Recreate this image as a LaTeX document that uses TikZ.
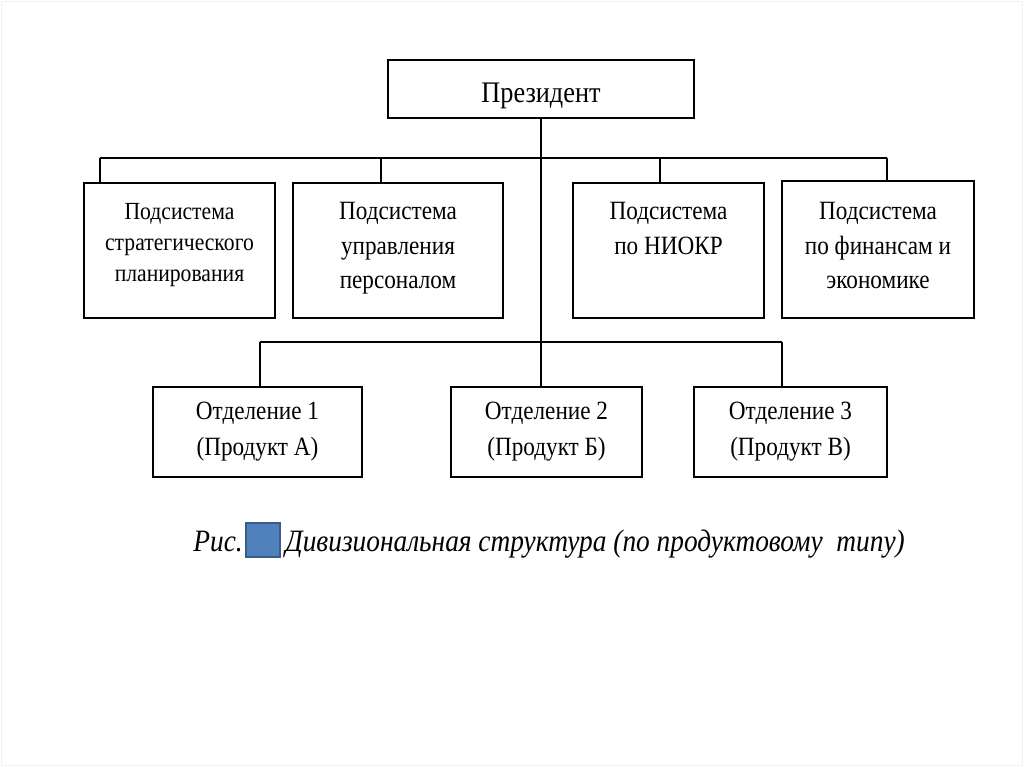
\documentclass[tikz,border=0pt]{standalone}
\usepackage{fontspec}
\setmainfont[FakeStretch=0.88]{Liberation Serif}
\usetikzlibrary{positioning}

\definecolor{markfill}{HTML}{4F81BD}
\definecolor{markline}{HTML}{385D8A}

\tikzset{
  unit/.style={draw, line width=0.9pt, inner sep=0pt},
  unittext/.style={inner sep=0pt, align=center, font=\fontsize{15}{19.6}\selectfont},
  captext/.style={inner sep=0pt, font=\fontsize{17.7}{20}\selectfont\itshape}
}

\begin{document}
\begin{tikzpicture}[x=0.02cm,y=-0.02cm]
  \useasboundingbox (0,0) rectangle (1024,767);
  \draw[black!6] (1,1) rectangle (1022,765);

  % President
  \node[unit, minimum width=6.12cm, minimum height=1.16cm, text height=0.58cm, text depth=0.02cm,
        font=\fontsize{17}{20}\selectfont] (pres) at (541,89) {Президент};

  % Subsystem boxes
  \node[unit, minimum width=3.82cm, minimum height=2.7cm] (s1) at (179.5,250.5) {};
  \node[unit, minimum width=4.2cm,  minimum height=2.7cm] (s2) at (398,250.5) {};
  \node[unit, minimum width=3.82cm, minimum height=2.7cm] (s3) at (668.5,250.5) {};
  \node[unit, minimum width=3.84cm, minimum height=2.74cm] (s4) at (878,249.5) {};

  \node[unittext, font=\fontsize{14}{17.6}\selectfont, below=0.42cm of s1.north] (s1t) {Подсистема\\стратегического\\планирования};
  \node[unittext, below=0.4cm of s2.north] (s2t) {Подсистема\\управления\\персоналом};
  \node[unittext, below=0.4cm of s3.north] (s3t) {Подсистема\\по НИОКР};
  \node[unittext, below=0.44cm of s4.north] (s4t) {Подсистема\\по финансам и\\экономике};

  % Division boxes
  \node[unit, unittext, font=\fontsize{15}{20.4}\selectfont, minimum width=4.18cm, minimum height=1.8cm] (d1) at (257.5,432) {Отделение 1\\(Продукт А)};
  \node[unit, unittext, font=\fontsize{15}{20.4}\selectfont, minimum width=3.82cm, minimum height=1.8cm] (d2) at (546.5,432) {Отделение 2\\(Продукт Б)};
  \node[unit, unittext, font=\fontsize{15}{20.4}\selectfont, minimum width=3.86cm, minimum height=1.8cm] (d3) at (790.5,432) {Отделение 3\\(Продукт В)};

  % Drop points
  \coordinate (t1) at (100,158);
  \coordinate (t2) at (381,158);
  \coordinate (t3) at (660,158);
  \coordinate (t4) at (887,158);
  \coordinate (b1) at (260,342);
  \coordinate (b3) at (782,342);

  % Connectors
  \draw[line width=0.9pt] (pres.south) -- (pres.south |- d2.north);
  \draw[line width=0.9pt] (t1) -- (t4);
  \foreach \i in {1,2,3,4} {
    \draw[line width=0.9pt] (t\i) -- (t\i |- s\i.north);
  }
  \draw[line width=0.9pt] (b1) -- (b3);
  \draw[line width=0.9pt] (b1) -- (b1 |- d1.north);
  \draw[line width=0.9pt] (b3) -- (b3 |- d3.north);

  % Caption
  \node[captext, anchor=base west] (ris) at (193,551) {Рис.};
  \node[draw=markline, fill=markfill, line width=0.6pt, minimum size=0.68cm, inner sep=0pt] (mark) at (263,540) {};
  \node[captext, anchor=base west] (cap) at (285,551) {Дивизиональная структура (по продуктовому\ \ типу)};
\end{tikzpicture}
\end{document}
